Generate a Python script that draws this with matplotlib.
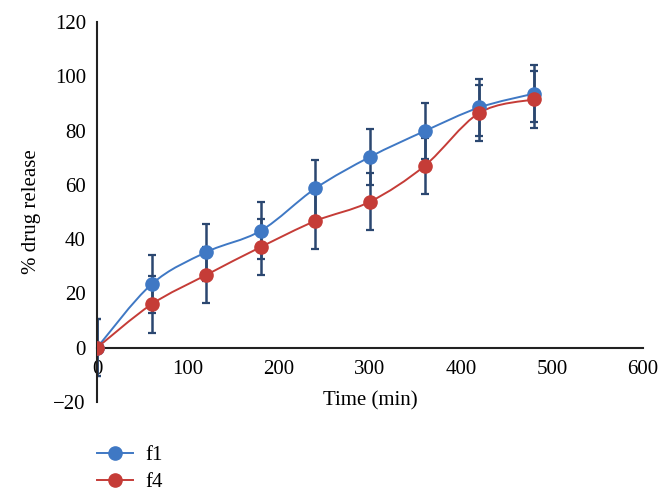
import matplotlib as mpl
mpl.use('Agg')
import matplotlib.pyplot as plt
from matplotlib.path import Path
from matplotlib.patches import PathPatch
from matplotlib.lines import Line2D

time_min = [0, 60, 120, 180, 240, 300, 360, 420, 480]
f1 = [0, 23.4, 35.2, 43.1, 58.7, 70.3, 79.8, 88.5, 93.6]
f4 = [0, 16.0, 26.8, 37.1, 46.7, 53.8, 67.0, 86.5, 91.5]
f1_err = [10.4, 10.6, 10.5, 10.4, 10.4, 10.4, 10.4, 10.4, 10.4]
f4_err = [10.4, 10.4, 10.2, 10.4, 10.4, 10.4, 10.4, 10.4, 10.4]

blue = '#3f78c4'
red = '#c53c37'
errc = '#2b4770'

plt.rcParams['font.family'] = ['Liberation Serif', 'DejaVu Serif']


def smooth_path(xs, ys):
    # excel style smoothed line: cubic bezier segments (catmull-rom)
    pts = list(zip(xs, ys))
    n = len(pts)
    verts = [pts[0]]
    codes = [Path.MOVETO]
    for i in range(n - 1):
        p0 = pts[i - 1] if i > 0 else pts[i]
        p1 = pts[i]
        p2 = pts[i + 1]
        p3 = pts[i + 2] if i + 2 < n else pts[i + 1]
        c1 = (p1[0] + (p2[0] - p0[0]) / 6, p1[1] + (p2[1] - p0[1]) / 6)
        c2 = (p2[0] - (p3[0] - p1[0]) / 6, p2[1] - (p3[1] - p1[1]) / 6)
        verts += [c1, c2, p2]
        codes += [Path.CURVE4] * 3
    return Path(verts, codes)


fig = plt.figure(figsize=(6.68, 5.01), dpi=100)
ax = fig.add_axes([0.1452, 0.1976, 0.8174, 0.7585])

for ys, err in ((f1, f1_err), (f4, f4_err)):
    ax.errorbar(time_min, ys, yerr=err, fmt='none', ecolor=errc, elinewidth=1.8,
                capsize=3, capthick=1.6, zorder=2)
for ys, col in ((f1, blue), (f4, red)):
    ax.add_patch(PathPatch(smooth_path(time_min, ys), facecolor='none', edgecolor=col,
                           lw=1.4, zorder=3))
    ax.plot(time_min, ys, 'o', color=col, ms=9.5, zorder=4)

ax.set_xlim(0, 600)
ax.set_ylim(-20, 120)
ax.set_xticks(range(0, 601, 100))
ax.set_yticks(range(-20, 121, 20))
ax.set_yticklabels(['\u221220'] + [str(v) for v in range(0, 121, 20)])
ax.spines['left'].set_position(('data', 0))
ax.spines['bottom'].set_position(('data', 0))
ax.spines['top'].set_visible(False)
ax.spines['right'].set_visible(False)
for s in ('left', 'bottom'):
    ax.spines[s].set_linewidth(1.5)
    ax.spines[s].set_color('#222222')
ax.tick_params(length=0, labelsize=15, pad=8)
ax.tick_params(axis='x', pad=9)

ax.set_ylabel('% drug release', fontsize=15, labelpad=9)
fig.text(0.555, 0.200, 'Time (min)', fontsize=15, ha='center', va='center')

handles = [Line2D([], [], color=blue, marker='o', ms=9.5, lw=1.4),
           Line2D([], [], color=red, marker='o', ms=9.5, lw=1.4)]
fig.legend(handles, ['f1', 'f4'], loc='upper left', bbox_to_anchor=(0.132, 0.127),
           frameon=False, fontsize=15, handlelength=1.75, handletextpad=0.6,
           labelspacing=0.35, borderaxespad=0)

plt.savefig('out.png', dpi=100)
